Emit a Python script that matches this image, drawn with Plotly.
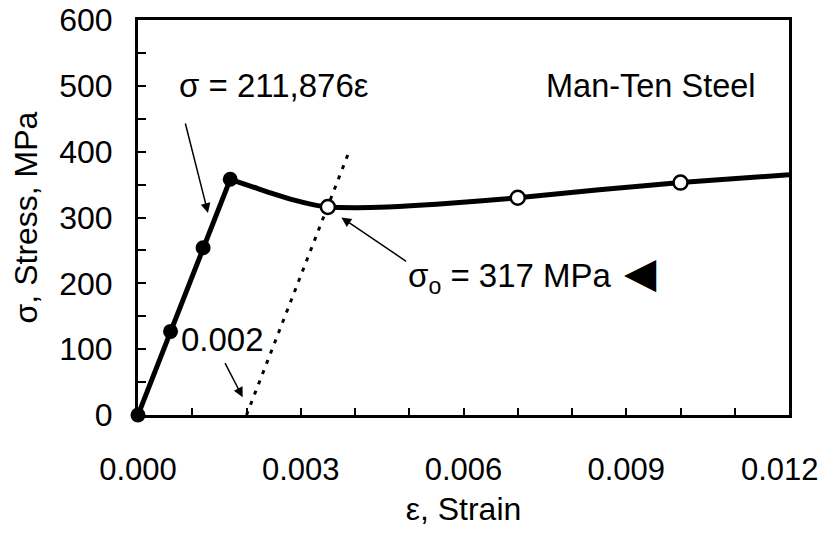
import plotly.graph_objects as go

# Elastic region (filled markers)
elastic_strain = [0.0, 0.0006, 0.0012, 0.0017]
elastic_stress = [0, 127, 254, 358]

# Post-yield curve
curve_strain = [0.0017, 0.0021, 0.0025, 0.0029, 0.0032, 0.0035, 0.0040, 0.0046, 0.0055, 0.0070, 0.0085, 0.0100, 0.0120]
curve_stress = [358, 347, 336, 326, 320, 316, 315, 316, 320, 330, 342, 353, 365]

# Open markers
open_strain = [0.0035, 0.0070, 0.0100]
open_stress = [316, 330, 353]

# 0.2% offset line
offset_strain = [0.002, 0.0039]
offset_stress = [0, 402]

x_tickvals = [0.0, 0.003, 0.006, 0.009]
x_ticktext = ["0.000", "0.003", "0.006", "0.009"]
x_last_tick = 0.012
x_last_label = "0.012"
y_tickvals = [0, 100, 200, 300, 400, 500, 600]

FONT = "Arial, Liberation Sans, sans-serif"

fig = go.Figure()
fig.add_trace(go.Scatter(x=offset_strain, y=offset_stress, mode="lines",
                         line=dict(color="black", width=3, dash="4px,7px"),
                         showlegend=False, hoverinfo="skip"))
fig.add_trace(go.Scatter(x=curve_strain, y=curve_stress, mode="lines",
                         line=dict(color="black", width=5, shape="spline", smoothing=0.8),
                         showlegend=False))
fig.add_trace(go.Scatter(x=elastic_strain, y=elastic_stress, mode="lines+markers",
                         line=dict(color="black", width=5),
                         marker=dict(color="black", size=15, symbol="circle"),
                         cliponaxis=False, showlegend=False))
fig.add_trace(go.Scatter(x=open_strain, y=open_stress, mode="markers",
                         marker=dict(color="white", size=14, symbol="circle",
                                     line=dict(color="black", width=2.5)),
                         cliponaxis=False, showlegend=False))

ann_font = dict(family=FONT, size=33, color="black")
annotations = [
    dict(x=0.00251, y=501, xref="x", yref="y", text="σ = 211,876ε", showarrow=False, font=ann_font),
    dict(x=0.00129, y=307, ax=0.000866, ay=445, xref="x", yref="y", axref="x", ayref="y",
         text="", showarrow=True, arrowhead=2, arrowsize=1.3, arrowwidth=1.5, arrowcolor="black"),
    dict(x=0.00946, y=500, xref="x", yref="y", text="Man-Ten Steel", showarrow=False,
         font=dict(family=FONT, size=32.5, color="black")),
    dict(x=0.00685, y=208, xref="x", yref="y", text="σ<sub>o</sub> = 317 MPa", showarrow=False, font=ann_font),
    dict(x=0.00375, y=300, ax=0.00497, ay=232, xref="x", yref="y", axref="x", ayref="y",
         text="", showarrow=True, arrowhead=2, arrowsize=1.3, arrowwidth=1.5, arrowcolor="black"),
    dict(x=0.00926, y=216, xref="x", yref="y", text="◀", showarrow=False,
         font=dict(family="DejaVu Sans", size=42, color="black")),
    dict(x=0.00155, y=114, xref="x", yref="y", text="0.002", showarrow=False, font=ann_font),
    dict(x=0.00193, y=27, ax=0.00159, ay=81, xref="x", yref="y", axref="x", ayref="y",
         text="", showarrow=True, arrowhead=2, arrowsize=1.3, arrowwidth=1.5, arrowcolor="black"),
    # last x tick label, kept inside the page edge
    dict(x=x_last_tick, y=0, xref="x", yref="y", text=x_last_label, showarrow=False,
         xanchor="right", yanchor="middle", xshift=32, yshift=-54,
         font=dict(family=FONT, size=31, color="black")),
]

fig.update_layout(
    width=813, height=519,
    margin=dict(l=130, r=32, t=12, b=112),
    paper_bgcolor="white", plot_bgcolor="white",
    font=dict(family=FONT, size=32, color="black"),
    annotations=annotations,
    xaxis=dict(range=[0, 0.012], tickvals=x_tickvals, ticktext=x_ticktext, automargin=False,
               ticklabeloverflow="allow", tickfont=dict(size=31),
               ticks="inside", ticklen=7, tickwidth=2, tickcolor="black",
               minor=dict(dtick=0.001, tick0=0, ticks="inside", ticklen=7, tickwidth=2, tickcolor="black"),
               showline=True, linecolor="black", linewidth=3, mirror=True,
               showgrid=False, zeroline=False, ticklabelstandoff=25,
               title=dict(text="ε, Strain", standoff=19, font=dict(size=32))),
    yaxis=dict(range=[0, 600], tickvals=y_tickvals, automargin=False,
               ticklabeloverflow="allow",
               ticks="inside", ticklen=8, tickwidth=2, tickcolor="black",
               minor=dict(dtick=50, tick0=0, ticks="inside", ticklen=8, tickwidth=2, tickcolor="black"),
               showline=True, linecolor="black", linewidth=3, mirror=True,
               showgrid=False, zeroline=False, ticklabelstandoff=16,
               title=dict(text="σ, Stress, MPa", standoff=13, font=dict(size=32))),
)

fig.write_html("out.html")
